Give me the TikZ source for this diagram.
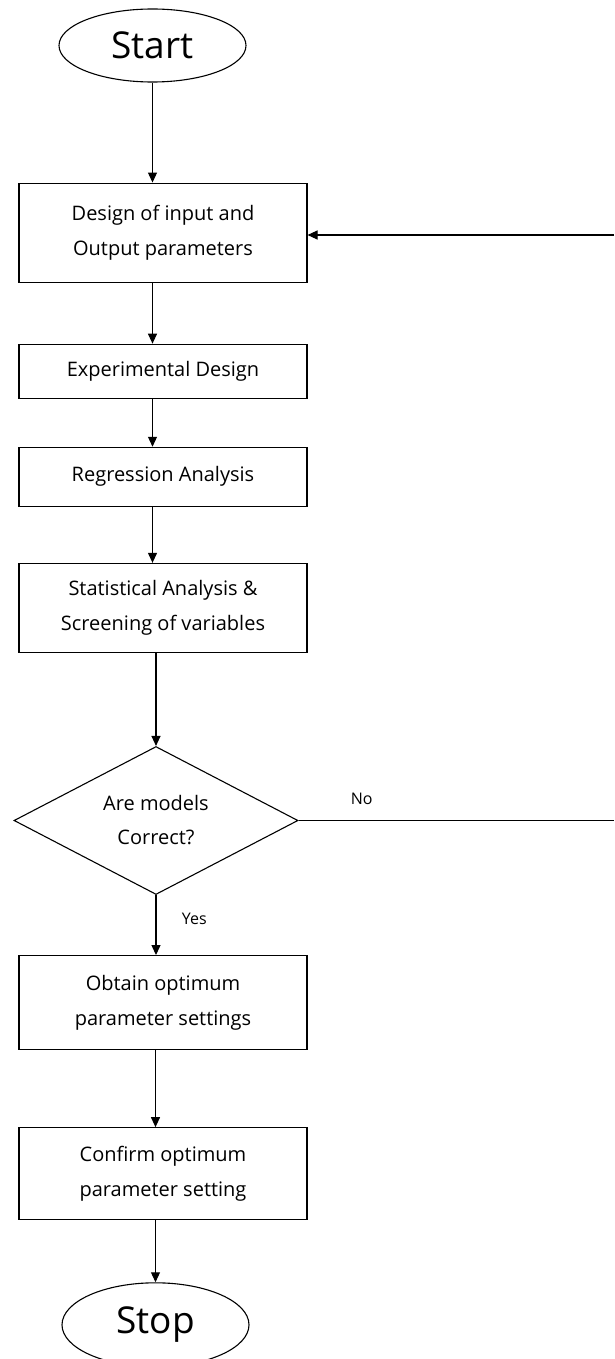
\documentclass[tikz,border=0pt]{standalone}
\usepackage{fontspec}
\setmainfont{Open Sans}
\usetikzlibrary{shapes.geometric,positioning,arrows.meta}

\begin{document}
\begin{tikzpicture}[->,>={Triangle[length=10pt,width=9pt]},x=1pt,y=1pt,line width=1.1pt,
    term node/.style={ellipse,draw,minimum width=187pt,inner sep=0pt,font=\fontsize{37}{40}\selectfont},
    step node/.style={rectangle,draw,minimum width=288pt,inner sep=0pt,align=center,font=\fontsize{20}{35}\selectfont},
    test node/.style={diamond,draw,shape aspect=1.92,minimum width=284pt,minimum height=148pt,inner sep=0pt,align=center,font=\fontsize{20}{34}\selectfont},
    tag node/.style={font=\fontsize{16}{18}\selectfont}]

    \useasboundingbox (0,0) rectangle (614,-1359);

    \node[term node,minimum height=73pt] (start) at (152.5,-45.5) {Start};
    \node[step node,minimum height=99pt] (design) [below=100pt of start,xshift=10.5pt] {Design of input and\\Output parameters};
    \node[step node,minimum height=54pt] (expdesign) [below=61pt of design] {Experimental Design};
    \node[step node,minimum height=59pt] (regression) [below=48pt of expdesign] {Regression Analysis};
    \node[step node,minimum height=89pt] (screening) [below=56pt of regression] {Statistical Analysis \&\\Screening of variables};
    \node[test node] (check) [below=93pt of screening,xshift=-7pt] {Are models\\Correct?};
    \node[step node,minimum height=94pt] (optimum) [below=60pt of check,xshift=7pt] {Obtain optimum\\parameter settings};
    \node[step node,minimum height=92pt] (confirm) [below=77pt of optimum] {Confirm optimum\\parameter setting};
    \node[term node,minimum height=84pt] (stop) [below=62pt of confirm,xshift=-7.5pt] {Stop};

    \coordinate (back) at (614,-235);
    \coordinate (edge) at (614,0);

    \path
        (start.south) edge (start.south |- design.north)
        (design.south -| start) edge (expdesign.north -| start)
        (expdesign.south -| start) edge (regression.north -| start)
        (regression.south -| start) edge (screening.north -| start)
        (screening.south -| check) edge (check.north)
        (check.south) edge node[tag node,right=22pt,pos=0.4]{Yes} (optimum.north -| check)
        (optimum.south -| stop) edge (confirm.north -| stop)
        (confirm.south -| stop) edge (stop.north)
        (back) edge (back -| design.east)
    ;
    \path[-] (check.east) edge node[tag node,above=12pt,pos=0.2]{No} (check.east -| edge);

\end{tikzpicture}
\end{document}
